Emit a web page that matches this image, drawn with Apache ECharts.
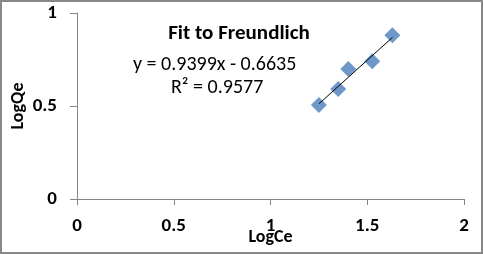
<!DOCTYPE html>
<html><head><meta charset="utf-8">
<script src="https://cdn.jsdelivr.net/npm/echarts@6/dist/echarts.min.js"></script>
<style>html,body{margin:0;padding:0;background:#fff}#c{width:483px;height:254px}</style>
</head><body><div id="c"></div>
<script>
const logCe = [1.250, 1.350, 1.402, 1.526, 1.630];
const logQe = [0.505, 0.591, 0.699, 0.740, 0.880];
const slope = 0.9399, intercept = -0.6635;
const trendX = [1.250, 1.630];
const xTicks = [0, 0.5, 1, 1.5, 2];
const yTicks = [0, 0.5, 1];

const pts = logCe.map((x, i) => [x, logQe[i]]);
const trend = trendX.map(x => [x, slope * x + intercept]);
const F = 'Calibri, Carlito, "Liberation Sans", Arial, sans-serif';
const chart = echarts.init(document.getElementById('c'));
const axisCol = '#868686';
chart.setOption({
  animation: false,
  grid: {left: 77, right: 19, top: 13, bottom: 55, containLabel: false, outerBoundsMode: 'none'},
  graphic: [
    {type: 'rect', shape: {x: 1, y: 1, width: 481, height: 252}, style: {fill: 'none', stroke: '#888', lineWidth: 2}, silent: true},
    {type: 'text', style: {x: 239, y: 34, text: 'Fit to Freundlich', textAlign: 'center', textVerticalAlign: 'middle', font: 'bold 21px ' + F, fill: '#000'}},
    {type: 'text', style: {x: 133, y: 65, text: 'y = 0.9399x - 0.6635', textAlign: 'left', textVerticalAlign: 'middle', font: '20px ' + F, fill: '#000'}},
    {type: 'text', style: {x: 171, y: 88, text: 'R\u00b2 = 0.9577', textAlign: 'left', textVerticalAlign: 'middle', font: '20px ' + F, fill: '#000'}}
  ],
  xAxis: {type: 'value', min: 0, max: 2, interval: 0.5, name: 'LogCe', nameLocation: 'middle', nameGap: 29, nameMoveOverlap: false,
    nameTextStyle: {fontFamily: F, fontSize: 18, fontWeight: 'bold', color: '#000'},
    axisLine: {show: true, onZero: false, lineStyle: {color: axisCol}},
    axisTick: {show: true, length: 6, lineStyle: {color: axisCol}},
    splitLine: {show: false},
    axisLabel: {margin: 18, fontFamily: F, fontSize: 19, fontWeight: 'bold', color: '#000',
      formatter: v => xTicks.includes(v) ? String(v) : ''}},
  yAxis: {type: 'value', min: 0, max: 1, interval: 0.5, name: 'LogQe', nameLocation: 'middle', nameGap: 50, nameRotate: 90, nameMoveOverlap: false,
    nameTextStyle: {fontFamily: F, fontSize: 18, fontWeight: 'bold', color: '#000'},
    axisLine: {show: true, lineStyle: {color: axisCol}},
    axisTick: {show: true, length: 7, lineStyle: {color: axisCol}},
    splitLine: {show: false},
    axisLabel: {margin: 20, fontFamily: F, fontSize: 19, fontWeight: 'bold', color: '#000',
      formatter: v => yTicks.includes(v) ? String(v) : ''}},
  series: [
    {type: 'line', data: trend, symbol: 'none', lineStyle: {color: '#000', width: 1}, z: 3},
    {type: 'scatter', data: pts, symbol: 'diamond', symbolSize: 16, itemStyle: {color: '#4A7EBB'}, z: 2}
  ]
});
</script></body></html>
